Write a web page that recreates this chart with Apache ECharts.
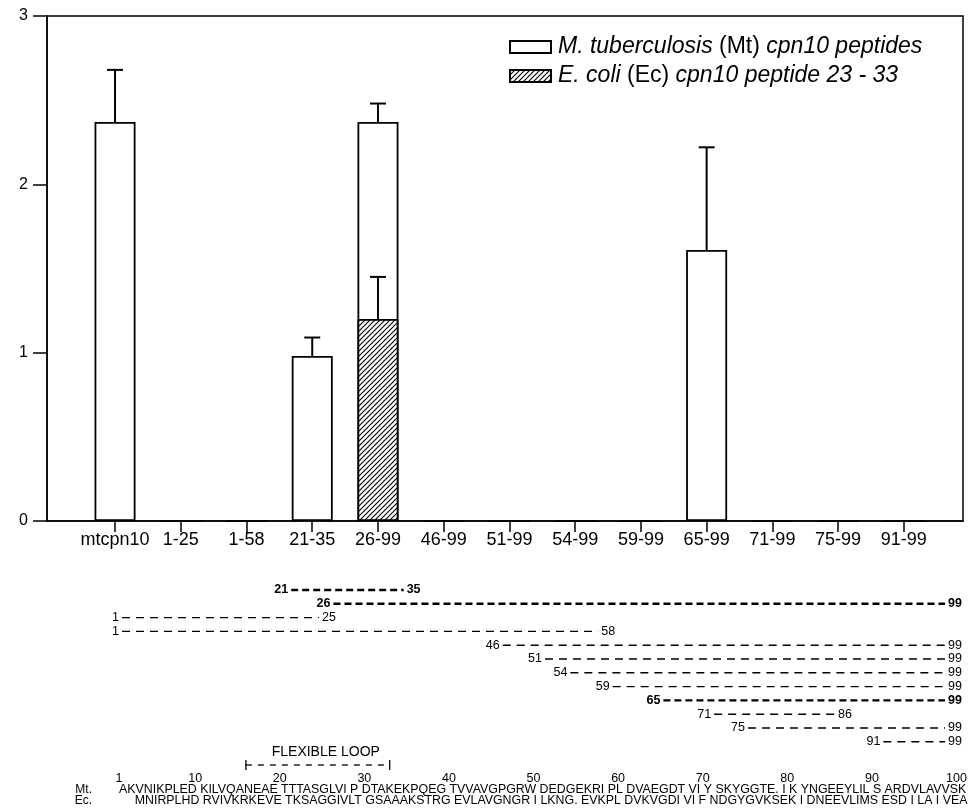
<!DOCTYPE html>
<html><head><meta charset="utf-8">
<script src="https://cdn.jsdelivr.net/npm/echarts@6/dist/echarts.min.js"></script>
<style>html,body{margin:0;padding:0;background:#fff}#c{width:975px;height:809px}</style>
</head><body><div id="c"></div>
<script>
// ---------- data ----------
const categories = ['mtcpn10','1-25','1-58','21-35','26-99','46-99','51-99','54-99','59-99','65-99','71-99','75-99','91-99'];
const mtValues   = [2.37, 0, 0, 0.98, 2.37, 0, 0, 0, 0, 1.61, 0, 0, 0];
const mtErrors   = [0.31, 0, 0, 0.11, 0.11, 0, 0, 0, 0, 0.61, 0, 0, 0];
const ecValues   = [null, null, null, null, 1.20, null, null, null, null, null, null, null, null];
const ecErrors   = [0, 0, 0, 0, 0.25, 0, 0, 0, 0, 0, 0, 0, 0];
const yTicks     = [0, 1, 2, 3];
const mtName = 'M. tuberculosis (Mt) cpn10 peptides';
const ecName = 'E. coli (Ec) cpn10 peptide 23 - 33';

const peptideStart  = [21, 26, 1, 1, 46, 51, 54, 59, 65, 71, 75, 91];
const peptideEnd    = [35, 99, 25, 58, 99, 99, 99, 99, 99, 86, 99, 99];
const peptideActive = [1, 1, 0, 0, 0, 0, 0, 0, 1, 0, 0, 0];
const loopRange   = [16, 33];
const loopLabel   = 'FLEXIBLE LOOP';
const rulerTicks  = [1, 10, 20, 30, 40, 50, 60, 70, 80, 90, 100];
const mtSequence = 'AKVNIKPLED KILVQANEAE TTTASGLVI P DTAKEKPQEG TVVAVGPGRW DEDGEKRI PL DVAEGDT VI Y SKYGGTE. I K YNGEEYLIL S ARDVLAVVSK';
const ecSequence = 'MNIRPLHD RVIVKRKEVE TKSAGGIVLT GSAAAKSTRG EVLAVGNGR I LKNG. EVKPL DVKVGDI VI F NDGYGVKSEK I DNEEVLIMS ESD I LA I VEA';
const seqLabels = ['Mt.', 'Ec.'];

// ---------- styling helpers ----------
const FONT = '"Liberation Sans", Arial, Helvetica, sans-serif';
function hatch() {
  const s = 5, c = document.createElement('canvas');
  c.width = s; c.height = s;
  const g = c.getContext('2d');
  g.fillStyle = '#fff'; g.fillRect(0, 0, s, s);
  g.strokeStyle = '#000'; g.lineWidth = 1.1;
  g.beginPath();
  g.moveTo(0, s); g.lineTo(s, 0);
  g.moveTo(-1, 1); g.lineTo(1, -1);
  g.moveTo(s - 1, s + 1); g.lineTo(s + 1, s - 1);
  g.stroke();
  return c;
}
const hatchPattern = { image: hatch(), repeat: 'repeat' };

const measureCtx = document.createElement('canvas').getContext('2d');
function fitFont(text, width, base) {
  measureCtx.font = base + 'px ' + FONT;
  return base * width / measureCtx.measureText(text).width;
}

function errRender(params, api) {
  const i = api.value(0), v = api.value(1), e = api.value(2);
  const p0 = api.coord([i, v]), p1 = api.coord([i, v + e]);
  return { type: 'group', children: [
    { type: 'line', shape: { x1: p0[0], y1: p0[1], x2: p1[0], y2: p1[1] }, style: { stroke: '#000', lineWidth: 2 } },
    { type: 'line', shape: { x1: p1[0] - 8, y1: p1[1], x2: p1[0] + 8, y2: p1[1] }, style: { stroke: '#000', lineWidth: 2 } }
  ]};
}

const chart = echarts.init(document.getElementById('c'), null, { renderer: 'canvas' });
const idx = categories.map((c, i) => i);
const mtErrData = idx.filter(i => mtErrors[i] > 0).map(i => [i, mtValues[i], mtErrors[i]]);
const ecErrData = idx.filter(i => ecErrors[i] > 0 && ecValues[i] != null).map(i => [i, ecValues[i], ecErrors[i]]);
const ecBarData = idx.filter(i => ecValues[i] != null).map(i => [i, ecValues[i]]);

const option = {
  animation: false,
  backgroundColor: '#fff',
  textStyle: { fontFamily: FONT, color: '#000' },
  grid: [
    { left: 47, top: 16, width: 916, height: 505, show: true, borderColor: '#000', borderWidth: 1.5, backgroundColor: 'transparent' },
    { left: 119, top: 590, width: 837.5, height: 179.4 }
  ],
  legend: {
    data: [mtName, ecName],
    orient: 'vertical',
    left: 509, top: 35, padding: 0,
    itemWidth: 41, itemHeight: 12, itemGap: 5,
    icon: 'rect',
    textStyle: { fontFamily: FONT, fontSize: 23, color: '#000', lineHeight: 24, padding: [0, 0, 0, 2],
      rich: { i: { fontStyle: 'italic', fontFamily: FONT, fontSize: 23, color: '#000', lineHeight: 24 },
              n: { fontFamily: FONT, fontSize: 23, color: '#000', lineHeight: 24 } } },
    formatter: function (name) {
      if (name === mtName) return '{i|M. tuberculosis} {n|(Mt)} {i|cpn10 peptides}';
      return '{i|E. coli} {n|(Ec)} {i|cpn10 peptide 23 - 33}';
    },
    selectedMode: false
  },
  xAxis: [
    { type: 'value', gridIndex: 0, min: -1.035, max: 12.9,
      axisLine: { show: true, onZero: false, lineStyle: { color: '#000', width: 1.5 } },
      axisTick: { show: true, customValues: idx, length: 11, lineStyle: { color: '#000', width: 1.5 } },
      axisLabel: { customValues: idx, formatter: v => categories[v], fontSize: 18, color: '#000', margin: 10, fontFamily: FONT },
      splitLine: { show: false } },
    { type: 'value', gridIndex: 1, min: 1, max: 100,
      axisLine: { show: false, onZero: false }, axisTick: { show: false },
      axisLabel: { customValues: rulerTicks, fontSize: 12.5, color: '#000', margin: 3, fontFamily: FONT },
      splitLine: { show: false } }
  ],
  yAxis: [
    { type: 'value', gridIndex: 0, min: 0, max: 3, interval: 1,
      axisLine: { show: true, onZero: false, lineStyle: { color: '#000', width: 1.5 } },
      axisTick: { show: true, inside: false, length: 14, customValues: yTicks, lineStyle: { color: '#000', width: 1.5 } },
      axisLabel: { fontSize: 16, color: '#000', margin: 19, fontFamily: FONT, customValues: yTicks },
      splitLine: { show: false } },
    { type: 'value', gridIndex: 1, min: 0, max: 13, inverse: true, show: false, axisLine: { onZero: false } }
  ],
  series: [
    { name: mtName, type: 'bar', xAxisIndex: 0, yAxisIndex: 0, barWidth: 41,
      data: idx.map(i => [i, mtValues[i]]),
      itemStyle: { color: '#fff', borderColor: '#000', borderWidth: 1.8 }, z: 2 },
    { name: ecName, type: 'bar', xAxisIndex: 0, yAxisIndex: 0, barWidth: 41, barGap: '-100%',
      data: ecBarData,
      itemStyle: { color: hatchPattern, borderColor: '#000', borderWidth: 1.8 }, z: 3 },
    { type: 'custom', xAxisIndex: 0, yAxisIndex: 0, z: 4, silent: true,
      data: mtErrData, renderItem: errRender },
    { type: 'custom', xAxisIndex: 0, yAxisIndex: 0, z: 5, silent: true,
      data: ecErrData, renderItem: errRender },
    // peptide map
    { type: 'custom', xAxisIndex: 1, yAxisIndex: 1, silent: true, clip: false,
      encode: { x: [0, 1], y: 2 },
      data: peptideStart.map((s, i) => [s, peptideEnd[i], i, peptideActive[i]]),
      renderItem: function (params, api) {
        const s = api.value(0), e = api.value(1), r = api.value(2), b = api.value(3);
        const p1 = api.coord([s, r]), p2 = api.coord([e, r]);
        const font = (b ? 'bold ' : '') + '12.5px ' + FONT;
        return { type: 'group', children: [
          { type: 'line', shape: { x1: p1[0] + 3, y1: p1[1], x2: p2[0] - 3, y2: p2[1] },
            style: { stroke: '#000', lineWidth: b ? 2.4 : 1.4, lineDash: b ? [7, 4] : [8, 6] } },
          { type: 'text', style: { text: String(s), x: p1[0], y: p1[1], align: 'right', verticalAlign: 'middle', font: font, fill: '#000' } },
          { type: 'text', style: { text: String(e), x: p2[0], y: p2[1], align: 'left', verticalAlign: 'middle', font: font, fill: '#000' } }
        ]};
      } },
    // flexible loop
    { type: 'custom', xAxisIndex: 1, yAxisIndex: 1, silent: true, clip: false,
      encode: { x: [0, 1] },
      data: [[loopRange[0], loopRange[1]]],
      renderItem: function (params, api) {
        const a = api.coord([api.value(0), 12.68]), b = api.coord([api.value(1), 12.68]);
        const t = api.coord([(api.value(0) + api.value(1)) / 2, 11.74]);
        return { type: 'group', children: [
          { type: 'line', shape: { x1: a[0], y1: a[1] - 5, x2: a[0], y2: a[1] + 5 }, style: { stroke: '#000', lineWidth: 1.3 } },
          { type: 'line', shape: { x1: b[0], y1: b[1] - 5, x2: b[0], y2: b[1] + 5 }, style: { stroke: '#000', lineWidth: 1.3 } },
          { type: 'line', shape: { x1: a[0], y1: a[1], x2: b[0] - 3, y2: b[1] }, style: { stroke: '#000', lineWidth: 1.3, lineDash: [6, 6] } },
          { type: 'text', style: { text: loopLabel, x: t[0] + 8, y: t[1], align: 'center', verticalAlign: 'middle', font: '14px ' + FONT, fill: '#000' } }
        ]};
      } },
    // sequences
    { type: 'custom', xAxisIndex: 1, yAxisIndex: 1, silent: true, clip: false,
      data: [[1, 100]],
      renderItem: function (params, api) {
        const l1 = api.coord([api.value(0), 14.45]), r1 = api.coord([api.value(1), 14.45]);
        const l2 = api.coord([api.value(0), 15.25]);
        const right = r1[0] + 11;
        const fs = fitFont(mtSequence, right - l1[0], 12);
        const f = fs.toFixed(2) + 'px ' + FONT;
        return { type: 'group', children: [
          { type: 'text', style: { text: seqLabels[0], x: l1[0] - 27, y: l1[1], align: 'right', verticalAlign: 'middle', font: '12px ' + FONT, fill: '#000' } },
          { type: 'text', style: { text: mtSequence, x: l1[0], y: l1[1], align: 'left', verticalAlign: 'middle', font: f, fill: '#000' } },
          { type: 'text', style: { text: seqLabels[1], x: l2[0] - 27, y: l2[1], align: 'right', verticalAlign: 'middle', font: '12px ' + FONT, fill: '#000' } },
          { type: 'text', style: { text: ecSequence, x: right, y: l2[1], align: 'right', verticalAlign: 'middle', font: f, fill: '#000' } }
        ]};
      } }
  ]
};
chart.setOption(option);
</script>
</body></html>
